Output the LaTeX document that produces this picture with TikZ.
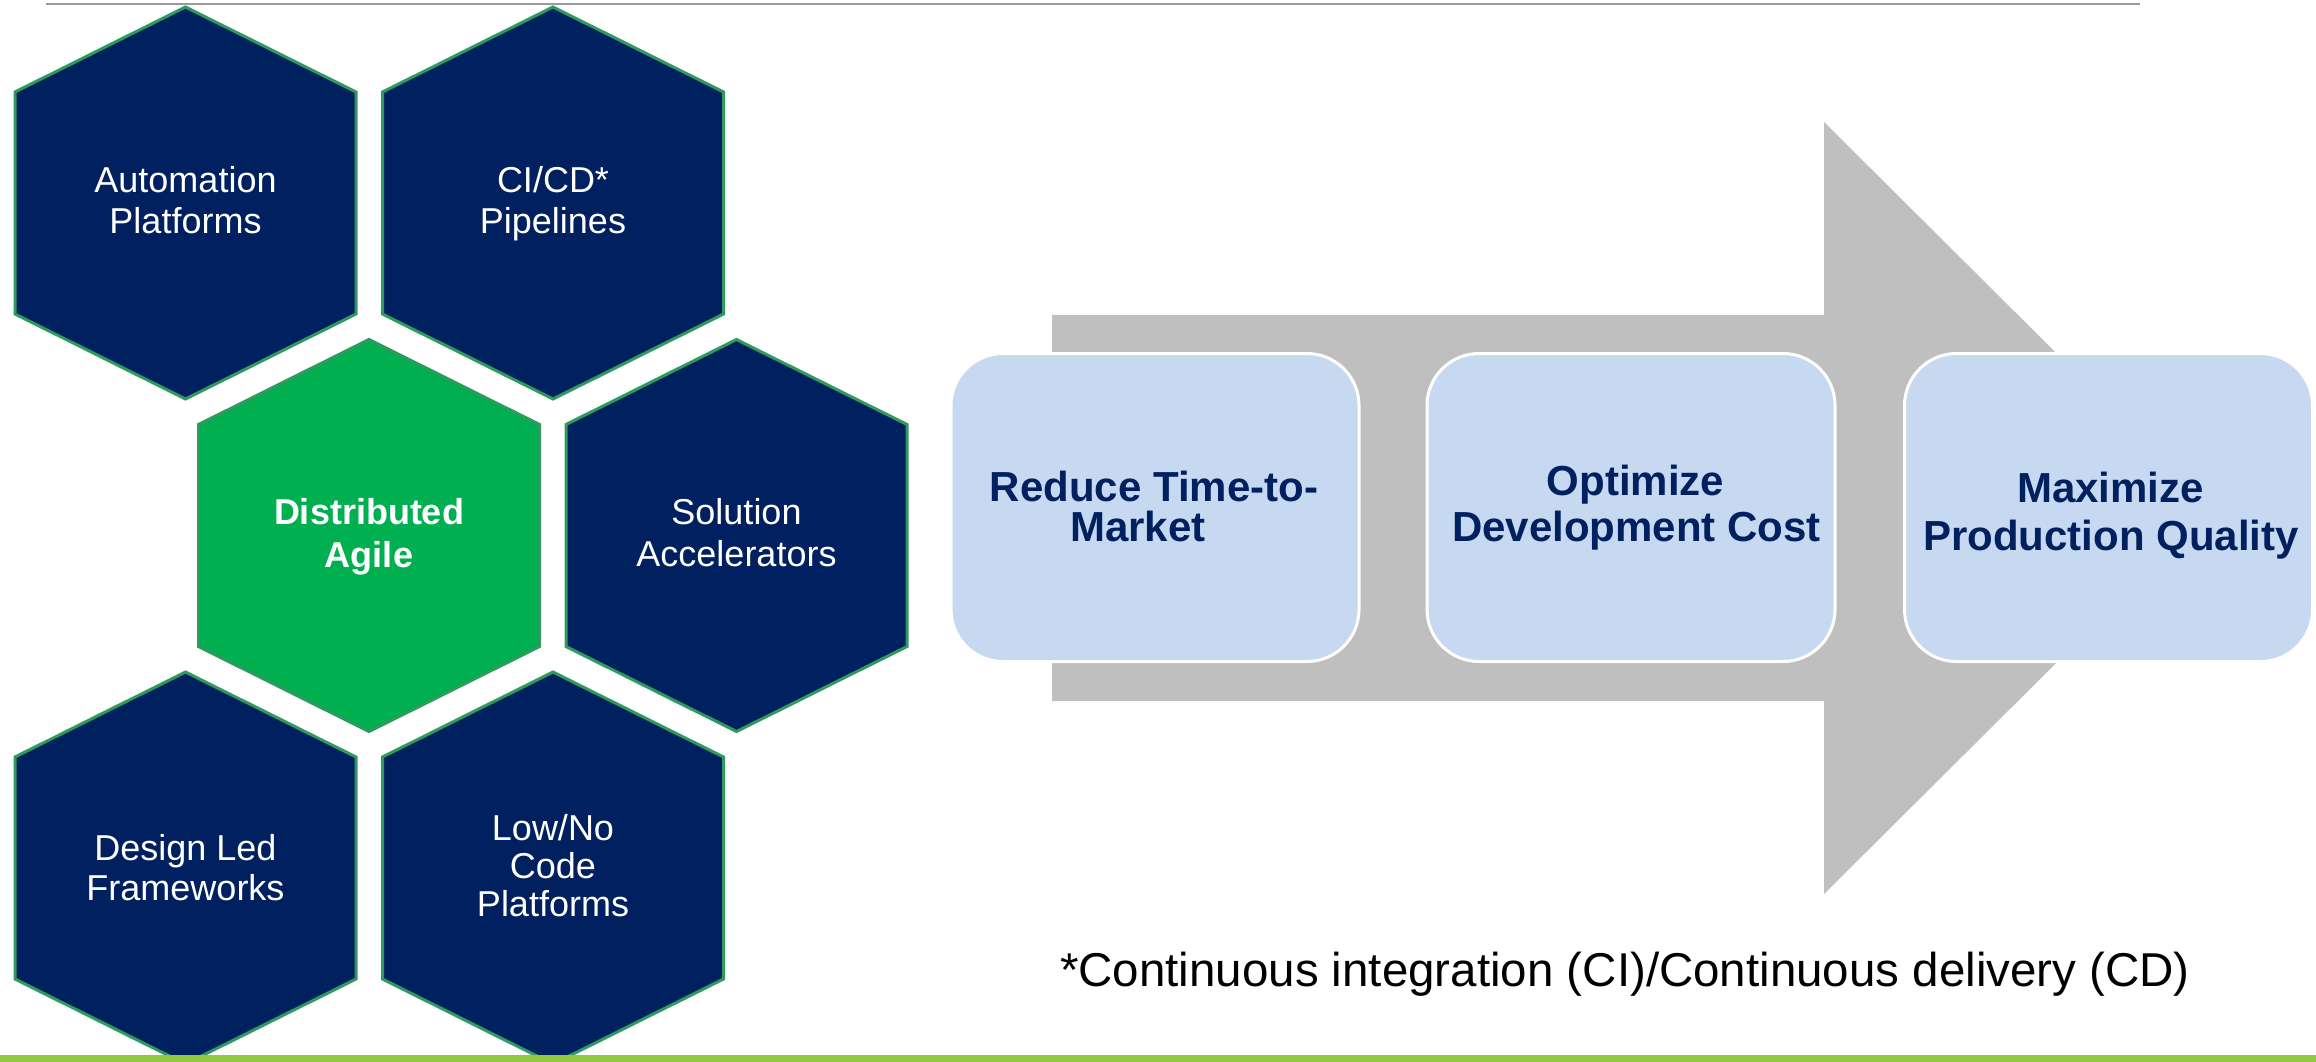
\documentclass[tikz,border=0pt]{standalone}
\usepackage{fontspec}
\setmainfont{Liberation Sans}
\definecolor{navy}{HTML}{002060}
\definecolor{hexgreen}{HTML}{00B050}
\definecolor{hexedge}{HTML}{2E9A5E}
\definecolor{arrowgray}{HTML}{BFBFBF}
\definecolor{boxblue}{HTML}{C6D9F1}
\definecolor{rulegray}{HTML}{9A9A9A}
\definecolor{rulegreen}{HTML}{92C83E}
\newcommand\hexshape[3]{%
  \path[hexpath,fill=#3] (#1,#2-196) -- (#1+170.5,#2-111) -- (#1+170.5,#2+111)
    -- (#1,#2+196) -- (#1-170.5,#2+111) -- (#1-170.5,#2-111) -- cycle;}
\begin{document}
\begin{tikzpicture}[x=1pt,y=-1pt,
  hexpath/.style={draw=hexedge,line width=3,line join=miter},
  hextxt/.style={anchor=base,text=white,inner sep=0pt,font=\fontsize{36}{40}\selectfont},
  hexbold/.style={hextxt,font=\fontsize{36}{40}\selectfont\bfseries},
  goalbox/.style={draw=white,line width=3,fill=boxblue,rounded corners=52,
    minimum width=408,minimum height=308,inner sep=0pt},
  goaltxt/.style={anchor=base,text=navy,inner sep=0pt,font=\fontsize{42}{46}\selectfont\bfseries},
  notetxt/.style={anchor=base,text=black,inner sep=0pt,font=\fontsize{47.5}{52}\selectfont}]
\useasboundingbox (0,0) rectangle (2316,1061);
\clip (0,0) rectangle (2316,1061);
% top rule
\draw[rulegray,line width=2] (46,4) -- (2140,4);
% hexagons
\hexshape{185.5}{203}{navy}
\hexshape{553}{203}{navy}
\hexshape{369}{535.5}{hexgreen}
\hexshape{736.5}{535.5}{navy}
\hexshape{185.5}{868}{navy}
\hexshape{553}{868}{navy}
% hexagon labels
\node[hextxt] (h1a) at (185.5,192.7) {Automation};
\node[hextxt] (h1b) at (185.5,233.3) {Platforms};
\node[hextxt] (h2a) at (553,192.7) {CI/CD*};
\node[hextxt] (h2b) at (553,233.3) {Pipelines};
\node[hexbold] (h3a) at (369,524) {Distributed};
\node[hexbold] (h3b) at (369,567.3) {Agile};
\node[hextxt] (h4a) at (736.5,524) {Solution};
\node[hextxt] (h4b) at (736.5,566.7) {Accelerators};
\node[hextxt] (h5a) at (185.5,860) {Design Led};
\node[hextxt] (h5b) at (185.5,900) {Frameworks};
\node[hextxt] (h6a) at (553,840) {Low/No};
\node[hextxt] (h6b) at (553,878.3) {Code};
\node[hextxt] (h6c) at (553,916.7) {Platforms};
% big arrow
\fill[arrowgray] (1052,314.8) -- (1824,314.8) -- (1824,122) -- (2212,508)
  -- (1824,894) -- (1824,701) -- (1052,701) -- cycle;
% goal boxes
\node[goalbox] (b1) at (1155,507.5) {};
\node[goalbox] (b2) at (1631,507.5) {};
\node[goalbox] (b3) at (2108.5,507.5) {};
\node[goaltxt] (t1a) at (1154,501.7) {Reduce Time-to-};
\node[goaltxt] (t1b) at (1138,541.7) {Market};
\node[goaltxt] (t2a) at (1635.5,495) {Optimize};
\node[goaltxt] (t2b) at (1636.5,541.7) {Development Cost};
\node[goaltxt] (t3a) at (2110.5,502.7) {Maximize};
\node[goaltxt] (t3b) at (2111,550.7) {Production Quality};
% footnote
\node[notetxt] (note) at (1625,986) {*Continuous integration (CI)/Continuous delivery (CD)};
% bottom rule
\fill[rulegreen] (0,1055) rectangle (2316,1062);
\end{tikzpicture}
\end{document}
